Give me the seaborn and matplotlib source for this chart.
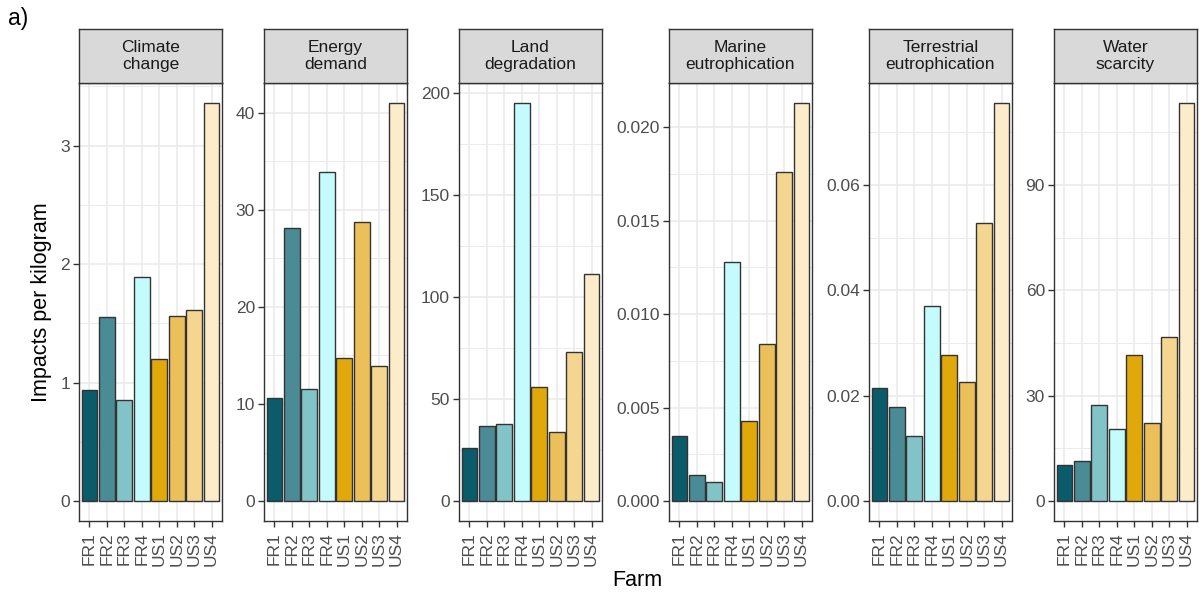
import matplotlib
matplotlib.use("Agg")
import matplotlib.pyplot as plt
import matplotlib.ticker as mticker
import seaborn as sns
import pandas as pd

farms = ["FR1", "FR2", "FR3", "FR4", "US1", "US2", "US3", "US4"]
colors = ["#0b5c6a", "#4a8b95", "#82c3c8", "#c4fcfd",
          "#e0a80a", "#ebc05a", "#f4d690", "#fdecca"]

categories = ["Climate\nchange", "Energy\ndemand", "Land\ndegradation",
              "Marine\neutrophication", "Terrestrial\neutrophication", "Water\nscarcity"]

climate_change = [0.94, 1.55, 0.85, 1.89, 1.20, 1.56, 1.61, 3.36]
energy_demand = [10.6, 28.1, 11.5, 33.9, 14.7, 28.7, 13.9, 41.0]
land_degradation = [26, 37, 37.7, 195, 56, 34, 73, 111]
marine_eutrophication = [0.0035, 0.0014, 0.0010, 0.0128, 0.0043, 0.0084, 0.0176, 0.0213]
terrestrial_eutrophication = [0.0215, 0.0178, 0.0123, 0.0370, 0.0277, 0.0226, 0.0528, 0.0756]
water_scarcity = [10.3, 11.4, 27.3, 20.5, 41.6, 22.2, 46.7, 113.4]

series = [climate_change, energy_demand, land_degradation,
          marine_eutrophication, terrestrial_eutrophication, water_scarcity]
major_steps = [1, 10, 50, 0.005, 0.02, 30]
tick_formats = ["{:.0f}", "{:.0f}", "{:.0f}", "{:.3f}", "{:.2f}", "{:.0f}"]

sns.set_theme(style="white")
plt.rcParams["font.family"] = ["Liberation Sans", "DejaVu Sans"]

W, H = 1200, 596
fig = plt.figure(figsize=(12, 5.96), dpi=100)
palette = dict(zip(farms, colors))

lefts = [79, 264, 459, 669, 869, 1054]
pw = 143
p_top, p_bot = 83, 521
s_top = 29

dark = "#333333"
for i, (cat, vals) in enumerate(zip(categories, series)):
    df = pd.DataFrame({"Farm": farms, "value": vals})
    ax = fig.add_axes([lefts[i] / W, (H - p_bot) / H, pw / W, (p_bot - p_top) / H])
    sns.barplot(data=df, x="Farm", y="value", hue="Farm", order=farms,
                hue_order=farms, palette=palette, dodge=False, width=0.9,
                edgecolor=dark, linewidth=1.0, legend=False, errorbar=None,
                saturation=1, ax=ax, zorder=3)
    vmax = max(vals)
    ax.set_ylim(-0.05 * vmax, 1.05 * vmax)
    ax.set_xlim(-0.6, 7.6)
    step = major_steps[i]
    ax.yaxis.set_major_locator(mticker.MultipleLocator(step))
    ax.yaxis.set_minor_locator(mticker.MultipleLocator(step / 2))
    fmt = tick_formats[i]
    ax.yaxis.set_major_formatter(mticker.FuncFormatter(lambda v, p, f=fmt: f.format(abs(v) if abs(v) < 1e-12 else v)))
    ax.set_axisbelow(True)
    ax.grid(which="major", axis="both", color="#ebebeb", lw=1.2, zorder=0)
    ax.grid(which="minor", axis="y", color="#ebebeb", lw=0.7, zorder=0)
    ax.set_facecolor("white")
    for sp in ax.spines.values():
        sp.set_color(dark)
        sp.set_linewidth(1.0)
        sp.set_zorder(5)
    ax.tick_params(axis="both", which="major", length=4, width=1.0, color=dark,
                   labelsize=12.5, labelcolor="#4d4d4d", pad=2.5, bottom=True, left=True)
    ax.tick_params(axis="x", which="major", pad=4, labelrotation=90)
    ax.tick_params(axis="y", which="minor", length=0)
    ax.set_xlabel("")
    ax.set_ylabel("")

    sax = fig.add_axes([lefts[i] / W, (H - p_top) / H, pw / W, (p_top - s_top) / H])
    sax.set_facecolor("#d9d9d9")
    sax.set_xticks([])
    sax.set_yticks([])
    for sp in sax.spines.values():
        sp.set_color(dark)
        sp.set_linewidth(1.0)
    sax.text(0.5, 0.5, cat, ha="center", va="center", fontsize=12.5,
             color="#1a1a1a", linespacing=1.2, transform=sax.transAxes)

fig.text(42 / W, 1 - 302 / H, "Impacts per kilogram", rotation=90,
         ha="center", va="center", fontsize=15.5, color="black")
fig.text(637 / W, 1 - 580 / H, "Farm", ha="center", va="center",
         fontsize=15.5, color="black")
fig.text(8 / W, 1 - 18 / H, "a)", ha="left", va="center", fontsize=16.5, color="black")

fig.savefig("out.png", dpi=100, facecolor="white")
